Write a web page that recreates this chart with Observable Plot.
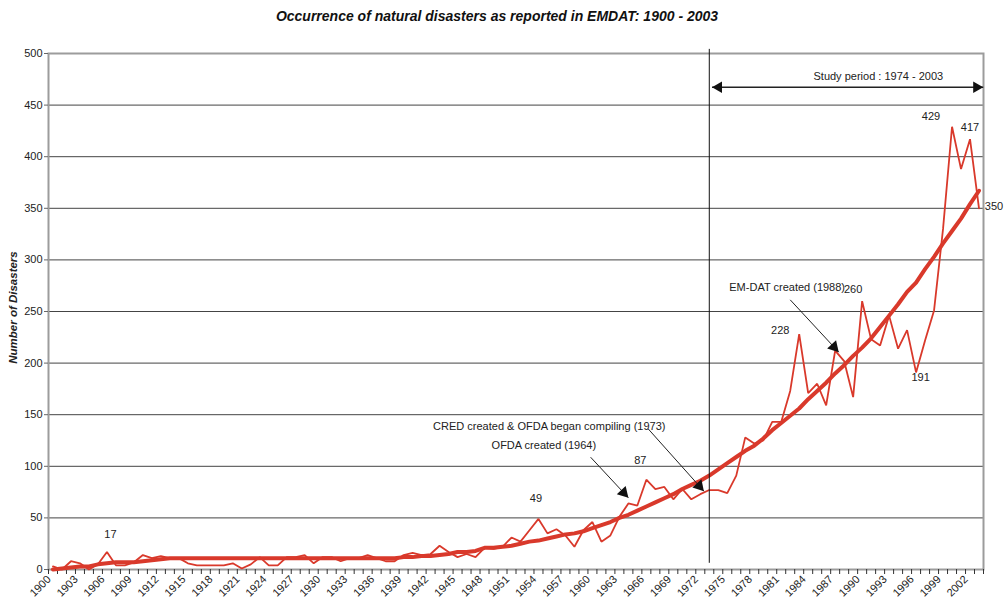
<!DOCTYPE html>
<html><head><meta charset="utf-8">
<script src="https://cdn.jsdelivr.net/npm/d3@7"></script>
<script src="https://cdn.jsdelivr.net/npm/@observablehq/plot@0.6"></script>
<style>
body{margin:0;background:#fff;}
#wrap{position:relative;width:1006px;height:598px;font-family:"Liberation Sans",Arial,sans-serif;}
#title{position:absolute;top:7px;left:-6px;width:1006px;text-align:center;font-size:14px;font-weight:bold;font-style:italic;line-height:18px;color:#111;}
#chart{position:absolute;top:0;left:0;}
</style></head><body>
<div id="wrap"><div id="title">Occurrence of natural disasters as reported in EMDAT: 1900 - 2003</div><div id="chart"></div></div>
<script>
// Categories: years 1900..2003
const years = d3.range(1900, 2004);

// Annual number of reported disasters (thin line)
const reported = [
  3, 0, 8, 6, 0, 5, 17, 4, 4, 7,          // 1900-1909
  14, 11, 13, 11, 11, 6, 4, 4, 4, 4,      // 1910-1919
  6, 1, 5, 12, 4, 4, 12, 12, 14, 6,       // 1920-1929
  12, 12, 8, 11, 11, 14, 11, 8, 8, 14,    // 1930-1939
  16, 14, 15, 23, 17, 12, 15, 12, 21, 20, // 1940-1949
  22, 31, 27, 38, 49, 35, 39, 33, 22, 38, // 1950-1959
  46, 27, 33, 51, 64, 62, 87, 78, 80, 68, // 1960-1969
  78, 68, 73, 77, 77, 74, 91, 128, 122, 125, // 1970-1979
  143, 143, 173, 228, 171, 180, 159, 212, 202, 167, // 1980-1989
  260, 223, 217, 246, 214, 232, 191, 222, 251, 330, // 1990-1999
  429, 388, 417, 350                      // 2000-2003
];

// Trend (thick line)
const trend = [
  0, 1, 2, 3, 3, 5, 6, 7, 7, 7,           // 1900-1909
  8, 9, 10, 11, 11, 11, 11, 11, 11, 11,   // 1910-1919
  11, 11, 11, 11, 11, 11, 11, 11, 11, 11, // 1920-1929
  11, 11, 11, 11, 11, 11, 11, 11, 11, 12, // 1930-1939
  12, 13, 13, 14, 15, 17, 17, 18, 21, 21, // 1940-1949
  22, 23, 25, 27, 28, 30, 32, 34, 35, 37, // 1950-1959
  40, 43, 46, 50, 53, 57, 61, 65, 69, 73, // 1960-1969
  78, 82, 86, 91, 97, 103, 109, 115, 120, 127, // 1970-1979
  135, 142, 149, 156, 165, 173, 181, 190, 198, 207, // 1980-1989
  215, 224, 235, 246, 257, 269, 278, 291, 303, 316, // 1990-1999
  328, 340, 354, 367                      // 2000-2003
];

const yTicks = d3.range(0, 501, 50);
const xLabelYears = d3.range(1900, 2004, 3);
const xBoundaries = d3.range(1899.5, 2004, 1);
const studyStart = 1973;

// Labelled data values (year whose reported value is printed)
const labelledYears = [1906, 1954, 1966, 1983, 1990, 1996, 2000, 2002, 2003];

// Annotation texts
const notes = [
  {text: "EM-DAT created (1988)", year: 1981.66, value: 273.0},
  {text: "CRED created & OFDA began compiling (1973)", year: 1955.2, value: 138.6},
  {text: "OFDA created (1964)", year: 1954.6, value: 120.2},
  {text: "Study period : 1974 - 2003", year: 1991.8, value: 478}
];
const arrows = [
  {x1: 1982.0, y1: 261.3, x2: 1987.4, y2: 210.6},
  {x1: 1966.2, y1: 136.3, x2: 1972.4, y2: 75.9},
  {x1: 1959.8, y1: 108.8, x2: 1964.0, y2: 69.5}
];
const studyArrow = {x1: 1973.3, x2: 2003.47, y: 467.3};

const rows = years.map((y, i) => ({year: y, reported: reported[i], trend: trend[i]}));

const W = 1006, H = 598, mL = 48, mR = 23, mT = 53, mB = 29;
const xDomain = [1899.5, 2003.5];
const pxPerYear = (W - mL - mR) / (xDomain[1] - xDomain[0]);
const pxPerUnit = (H - mT - mB) / 500;
const red = "#d9392b";
const ink = "#222";
const font = "Liberation Sans, Arial, sans-serif";

function head(x, y, vx, vy, r) {
  const len = Math.hypot(vx, vy);
  const ux = vx / len, uy = vy / len;
  const k = r * Math.sqrt(Math.PI / (3 * Math.sqrt(3)));
  const angle = Math.atan2(ux, -uy) * 180 / Math.PI;
  return Plot.dot([{x, y}], {x: "x", y: "y", symbol: "triangle", r, rotate: angle,
    fill: "#111", stroke: "none", dx: -2 * k * ux, dy: -2 * k * uy});
}

const valueLabelOffsets = {
  1906: [3.5, -17.5], 1954: [-2.5, -20], 1966: [-6, -19], 1983: [-19, -4],
  1990: [-9, -12], 1996: [4.5, 5], 2000: [-21, -10.6], 2002: [0, -12], 2003: [15, -2]
};

const marks = [
  Plot.ruleY(yTicks.filter(v => v > 0 && v < 500), {stroke: "#444", strokeWidth: 1}),
  Plot.frame({stroke: "#9c9c9c", strokeWidth: 2}),
  Plot.axisY({ticks: yTicks, tickSize: 4, tickPadding: 2, fontSize: 11, label: null,
    stroke: "#666", fill: ink, fontFamily: font, tickFormat: d => String(d)}),
  Plot.axisX(xBoundaries, {tickSize: 5, tickFormat: () => "", label: null, stroke: "#333"}),
  Plot.text(xLabelYears, {x: d => d, y: () => 0, text: d => String(d), rotate: -45,
    textAnchor: "end", lineAnchor: "middle", dx: -4, dy: 8, fontSize: 11, fill: ink, fontFamily: font}),
  Plot.line(rows, {x: "year", y: "reported", stroke: red, strokeWidth: 1.8, strokeLinejoin: "miter"}),
  Plot.line(rows, {x: "year", y: "trend", stroke: red, strokeWidth: 4, strokeLinejoin: "round"}),
  Plot.ruleX([studyStart], {y1: 6, y2: 504, stroke: "#111", strokeWidth: 1}),
  Plot.text(["Number of Disasters"], {frameAnchor: "left", textAnchor: "middle", dx: -35, dy: -4, rotate: -90,
    fontSize: 11.5, fontWeight: "bold", fontStyle: "italic", fill: ink, fontFamily: font}),
  ...labelledYears.map(yr => {
    const row = rows.find(r => r.year === yr);
    const [ox, oy] = valueLabelOffsets[yr];
    return Plot.text([row], {x: "year", y: "reported", text: d => String(d.reported),
      dx: ox, dy: oy, fontSize: 11, fill: ink, fontFamily: font});
  }),
  Plot.text(notes, {x: "year", y: "value", text: "text", fontSize: 11, fill: ink, fontFamily: font}),
  Plot.link(arrows, {x1: "x1", y1: "y1", x2: "x2", y2: "y2", stroke: "#222", strokeWidth: 1}),
  ...arrows.map(a => head(a.x2, a.y2, (a.x2 - a.x1) * pxPerYear, -(a.y2 - a.y1) * pxPerUnit, 4.5)),
  Plot.link([studyArrow], {x1: "x1", x2: "x2", y1: "y", y2: "y", stroke: "#222", strokeWidth: 1.5}),
  head(studyArrow.x1, studyArrow.y, -1, 0, 4.3),
  head(studyArrow.x2, studyArrow.y, 1, 0, 4.3)
];

const chart = Plot.plot({
  width: W, height: H,
  marginLeft: mL, marginRight: mR, marginTop: mT, marginBottom: mB,
  style: {background: "transparent", fontFamily: font, overflow: "visible"},
  x: {type: "linear", domain: xDomain, axis: null},
  y: {type: "linear", domain: [0, 500], axis: null},
  marks
});
document.getElementById("chart").appendChild(chart);
</script>
</body></html>
